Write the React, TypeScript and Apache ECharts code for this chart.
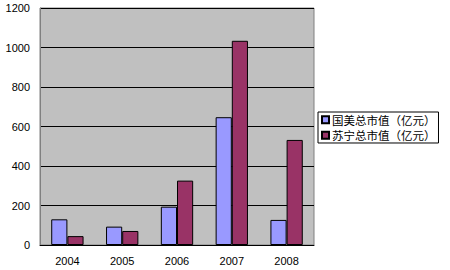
import React, { useEffect, useRef } from "react";
import * as echarts from "echarts";

const categories = ["2004", "2005", "2006", "2007", "2008"];
const gomeValues = [130, 93, 194, 647, 127];
const suningValues = [45, 71, 326, 1034, 532];
const seriesNames = ["国美总市值（亿元）", "苏宁总市值（亿元）"];

export default function App() {
  const ref = useRef<HTMLDivElement>(null);
  useEffect(() => {
    if (!ref.current) return;
    const chart = echarts.init(ref.current, null, { renderer: "svg" });
    chart.setOption({
      animation: false,
      backgroundColor: "#ffffff",
      grid: {
        left: 40,
        top: 8,
        width: 274,
        height: 237,
        show: true,
        backgroundColor: "#C0C0C0",
        borderColor: "#808080",
        borderWidth: 1,
      },
      legend: {
        orient: "vertical",
        left: 318,
        top: 112,
        itemWidth: 7,
        itemHeight: 7,
        itemGap: 4,
        padding: [2, 3, 2, 3],
        borderColor: "#000",
        borderWidth: 1,
        icon: "rect",
        textStyle: {
          fontFamily: "'Noto Sans CJK SC'",
          fontSize: 11.5,
          lineHeight: 11,
          color: "#000",
          padding: [0, 0, 0, -2],
        },
        data: seriesNames,
      },
      xAxis: {
        type: "category",
        data: categories,
        axisLine: { lineStyle: { color: "#000", width: 1 } },
        axisTick: { inside: true, length: 3, lineStyle: { color: "#000" } },
        axisLabel: {
          color: "#000",
          fontSize: 11,
          fontFamily: "'Liberation Sans', Arial",
          margin: 10,
        },
      },
      yAxis: {
        type: "value",
        min: 0,
        max: 1200,
        interval: 200,
        axisLine: { show: true, lineStyle: { color: "#808080", width: 1 } },
        axisTick: { show: false },
        splitLine: { lineStyle: { color: "#000", width: 1 } },
        axisLabel: {
          color: "#000",
          fontSize: 11,
          fontFamily: "'Liberation Sans', Arial",
          margin: 10,
          formatter: (v: number) => String(v),
        },
      },
      series: [
        {
          name: seriesNames[0],
          type: "bar",
          data: gomeValues,
          barGap: "0%",
          barCategoryGap: "41%",
          itemStyle: { color: "#9999FF", borderColor: "#000", borderWidth: 1 },
        },
        {
          name: seriesNames[1],
          type: "bar",
          data: suningValues,
          barGap: "0%",
          barCategoryGap: "41%",
          itemStyle: { color: "#993366", borderColor: "#000", borderWidth: 1 },
        },
      ],
    });
    return () => chart.dispose();
  }, []);
  return <div ref={ref} style={{ width: 450, height: 270, position: "absolute", left: 0, top: 0 }} />;
}
